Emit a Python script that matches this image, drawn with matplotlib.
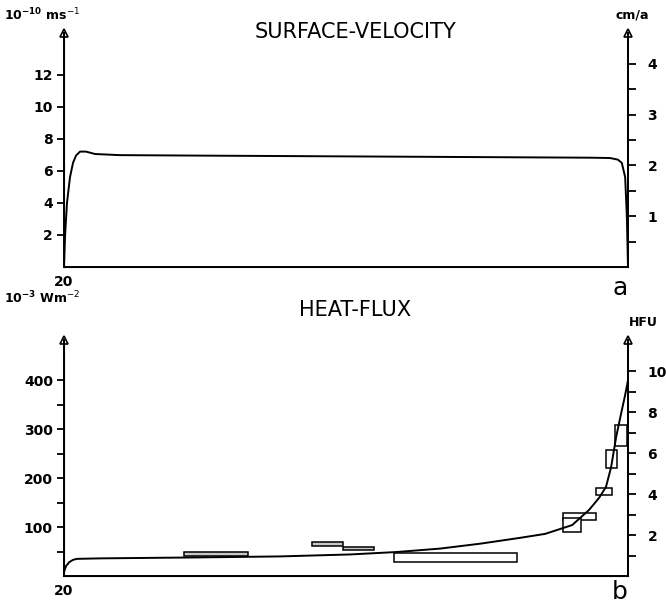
import matplotlib
matplotlib.use("Agg")
import matplotlib.pyplot as plt
from matplotlib.patches import Rectangle

plt.rcParams.update({"font.family": "DejaVu Sans", "font.size": 10})

# unit conversions for the right-hand axes
MS_PER_CMA = 3.169   # 1 cm/a in 1e-10 m/s
MW_PER_HFU = 41.84   # 1 HFU in 1e-3 W/m^2

# ── panel a: surface velocity (x in % of profile, y in 1e-10 m/s) ────────────
vel_x = [0, 0.18, 0.53, 1.06, 1.6, 2.13, 2.84, 3.9, 5.5, 9.9, 24.1, 50.7,
         77.3, 93.3, 96.8, 98.2, 98.9, 99.5, 99.8, 100]
vel_y = [0, 1.9, 4.0, 5.6, 6.5, 6.95, 7.2, 7.2, 7.05, 6.98, 6.95, 6.9,
         6.85, 6.82, 6.8, 6.7, 6.5, 5.6, 3.1, 0]

# ── panel b: heat flux (y in 1e-3 W/m^2) ─────────────────────────────────────
hf_x = [0, 0.35, 0.9, 1.6, 2.3, 6.4, 15.2, 24.1, 38.3, 50.7, 59.0, 66.7,
        73.8, 80.9, 85.3, 90.1, 93.1, 94.9, 96.1, 97.0, 97.9, 98.8, 99.5, 100]
hf_y = [8, 20, 28, 33, 35, 36, 37, 38, 40, 44, 49, 56,
        66, 78, 86, 104, 135, 160, 182, 222, 284, 333, 370, 400]

# measured heat flow ranges (boxes)
box_x0 = [21.3, 44.0, 49.5, 58.5, 88.5, 88.5, 94.3, 96.1, 97.7]
box_x1 = [32.6, 49.5, 55.0, 80.3, 94.3, 91.7, 97.2, 98.0, 99.8]
box_lo = [41, 61, 53, 29, 114, 90, 165, 220, 265]
box_hi = [50, 69, 59, 47, 129, 118, 180, 257, 308]
box_fill = ["#c8c8c8", "#c8c8c8", "#c8c8c8", "white", "white", "white",
            "white", "white", "white"]

W, H = 666, 603
fig = plt.figure(figsize=(W / 100, H / 100), dpi=100)


def style_axes(ax, ymax, rmax, lmaj, lmin, rmaj, rmin):
    ax.set_xlim(0, 100)
    ax.set_ylim(0, ymax)
    ax.spines["top"].set_visible(False)
    for s in ("left", "bottom", "right"):
        ax.spines[s].set_linewidth(1.4)
    ax.set_xticks([0])
    ax.set_xticklabels(["20"], fontweight="bold", fontsize=10)
    ax.tick_params(axis="x", length=0, pad=6)
    ax.set_yticks(lmaj)
    ax.set_yticks(lmin, minor=True)
    ax.tick_params(axis="y", which="both", direction="out", length=5,
                   width=1.3, labelsize=10, pad=3)
    for t in ax.get_yticklabels():
        t.set_fontweight("bold")
    ax.plot([0], [1], marker="^", ms=6, mfc="white", mec="black", mew=1.2,
            transform=ax.transAxes, clip_on=False)

    rx = ax.twinx()
    rx.set_ylim(0, rmax)
    rx.spines["top"].set_visible(False)
    rx.spines["right"].set_linewidth(1.4)
    rx.set_yticks(rmaj)
    rx.set_yticks(rmin, minor=True)
    rx.tick_params(axis="y", which="both", direction="out", length=6,
                   width=1.3, labelsize=10, pad=8)
    for t in rx.get_yticklabels():
        t.set_fontweight("bold")
    rx.plot([1], [1], marker="^", ms=6, mfc="white", mec="black", mew=1.2,
            transform=rx.transAxes, clip_on=False)
    return rx


# top panel
ax1 = fig.add_axes([64 / W, 1 - 267 / H, 564 / W, 234 / H])
top1 = 14.6
style_axes(ax1, top1, top1 / MS_PER_CMA,
           [2, 4, 6, 8, 10, 12], [],
           [1, 2, 3, 4], [0.5, 1.5, 2.5, 3.5])
ax1.plot(vel_x, vel_y, color="black", lw=1.4)

# bottom panel
ax2 = fig.add_axes([64 / W, 1 - 576 / H, 564 / W, 236 / H])
top2 = 482
style_axes(ax2, top2, top2 / MW_PER_HFU,
           [100, 200, 300, 400], [50, 150, 250, 350],
           [2, 4, 6, 8, 10], [1, 3, 5, 7, 9])
ax2.plot(hf_x, hf_y, color="black", lw=1.4, zorder=3)
for x0, x1, lo, hi, fc in zip(box_x0, box_x1, box_lo, box_hi, box_fill):
    ax2.add_patch(Rectangle((x0, lo), x1 - x0, hi - lo, facecolor=fc,
                            edgecolor="black", lw=1.1, zorder=2))

# titles, units and panel letters
fig.text(355 / W, 1 - 32 / H, "SURFACE-VELOCITY", ha="center", va="center",
         fontsize=15)
fig.text(355 / W, 1 - 310 / H, "HEAT-FLUX", ha="center", va="center",
         fontsize=15)
fig.text(4 / W, 1 - 15 / H, r"$\mathbf{10^{-10}}$ ms$^{-1}$", ha="left",
         va="center", fontsize=9, fontweight="bold")
fig.text(616 / W, 1 - 15 / H, "cm/a", ha="left", va="center", fontsize=9,
         fontweight="bold")
fig.text(4 / W, 1 - 298 / H, r"$\mathbf{10^{-3}}$ Wm$^{-2}$", ha="left",
         va="center", fontsize=9, fontweight="bold")
fig.text(643 / W, 1 - 323 / H, "HFU", ha="center", va="center", fontsize=9,
         fontweight="bold")
fig.text(620 / W, 1 - 288 / H, "a", ha="center", va="center", fontsize=18)
fig.text(620 / W, 1 - 592 / H, "b", ha="center", va="center", fontsize=18)

fig.savefig("out.png", dpi=100)
